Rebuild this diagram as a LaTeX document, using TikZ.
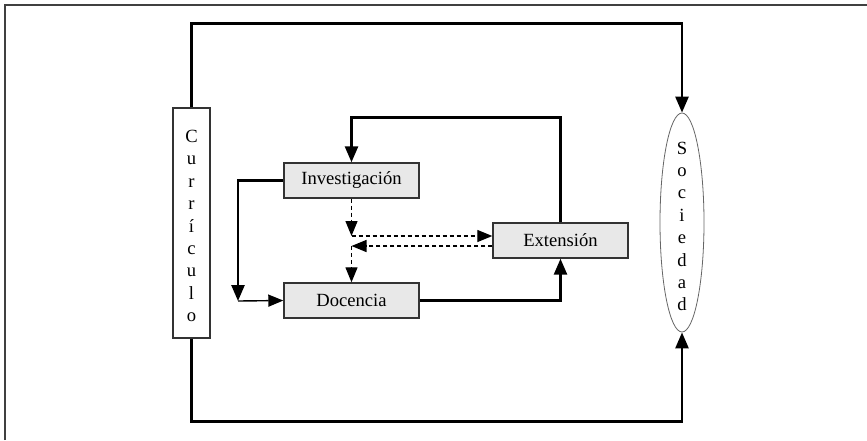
\documentclass[tikz,border=0pt]{standalone}
\usepackage{fontspec}
\setmainfont{Liberation Serif}
\usetikzlibrary{arrows.meta,shapes.geometric,calc}
\begin{document}
\begin{tikzpicture}[x=1pt,y=-1pt,
  font=\fontsize{18.6}{22.4}\selectfont,
  boxnode/.style={draw=black!80,line width=1.4pt,fill=black!9,minimum width=135pt,minimum height=35pt,inner sep=0pt},
  curbox/.style={draw=black!80,line width=1.4pt,fill=white,minimum width=37pt,minimum height=230pt,inner sep=0pt,align=center},
  socell/.style={ellipse,draw=black!60,line width=0.8pt,fill=white,minimum width=44pt,minimum height=219pt,inner sep=0pt},
  flow/.style={line width=2.6pt,-{Triangle[length=16pt,width=13pt]}},
  thinflow/.style={line width=1.4pt,-{Triangle[length=15pt,width=12pt]}},
  dflow/.style={line width=1.3pt,dash pattern=on 4pt off 3pt,-{Triangle[length=15pt,width=12pt]}}]
\useasboundingbox (0,0) rectangle (867,440);
\draw[line width=2pt,black!75] (4.5,440) -- (4.5,4.5) -- (867,4.5);

\node[curbox] (cur) at (191.5,223) {\rule{0pt}{18.5pt}C\\u\\r\\r\\í\\c\\u\\l\\o};
\node[socell] (soc) at (682,222.5) {\raisebox{-19.5pt}{\smash{\begin{tabular}{@{}c@{}}S\\o\\c\\i\\e\\d\\a\\d\end{tabular}}}};
\node[boxnode] (inv) at (351.5,180.5) {Investigación};
\node[boxnode] (doc) at (351.5,300.5) {Docencia};
\node[boxnode] (ext) at (560.5,240.5) {Extensión};

\draw[flow] (cur.north) -- ++(0,-84) -| (soc.north);
\draw[flow] (cur.south) -- ++(0,83) -| (soc.south);

\coordinate (dl) at (238,301);
\draw[flow] (inv.west) -| (dl);
\draw[thinflow] (dl) -- (doc.west);

\draw[flow] (ext.north) -- ++(0,-105) -| (inv.north);
\draw[flow] (doc.east) -| (ext.south);

\coordinate (d1) at (351.5,236);
\coordinate (d2) at (351.5,246);
\draw[dflow] (inv.south) -- (d1);
\draw[dflow] (d1) -- (ext.west |- d1);
\draw[dflow] (ext.west |- d2) -- (d2);
\draw[dflow] (d2) -- (doc.north);
\end{tikzpicture}
\end{document}
